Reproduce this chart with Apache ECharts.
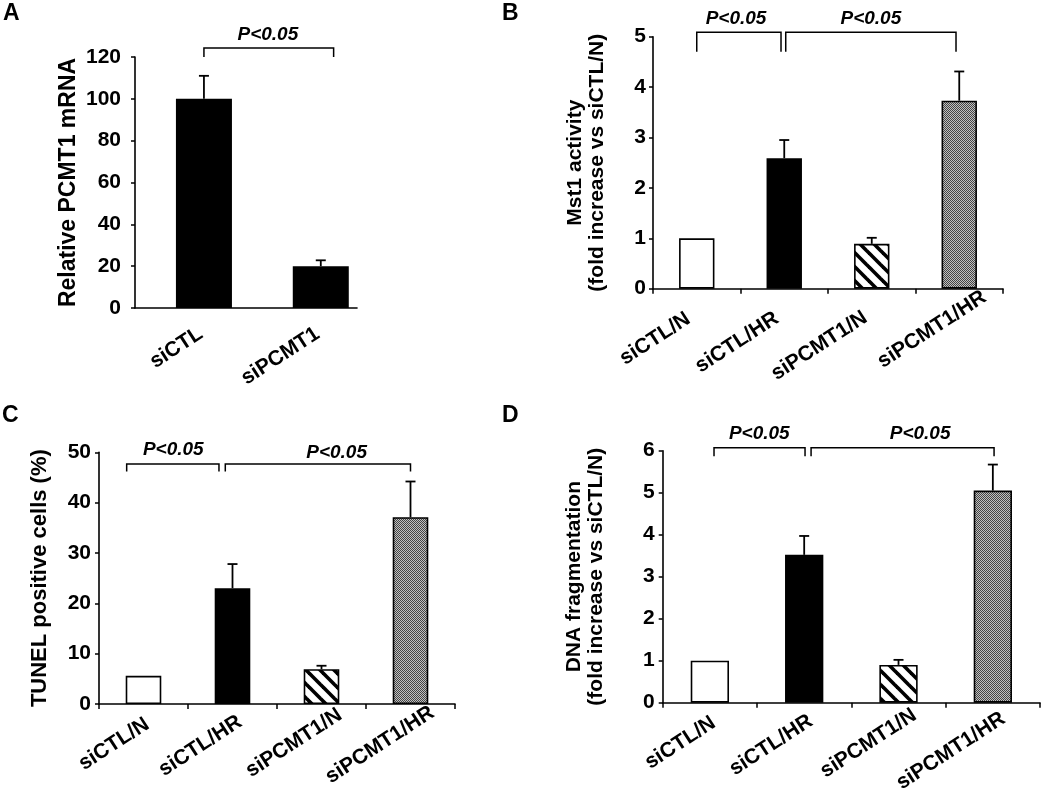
<!DOCTYPE html>
<html><head><meta charset="utf-8">
<script src="https://cdn.jsdelivr.net/npm/echarts@6/dist/echarts.min.js"></script>
<style>html,body{margin:0;padding:0;background:#fff}#c{width:1050px;height:806px}</style>
</head><body><div id="c"></div>
<script>
// ---------------- DATA ----------------
const catsA = ['siCTL', 'siPCMT1'];
const valsA = [100, 20];
const errTopA = [111, 22.8];
const yTicksA = [0, 20, 40, 60, 80, 100, 120];

const cats4 = ['siCTL/N', 'siCTL/HR', 'siPCMT1/N', 'siPCMT1/HR'];

const valsB = [1.0, 2.59, 0.89, 3.73];
const errTopB = [null, 2.95, 1.01, 4.31];
const yTicksB = [0, 1, 2, 3, 4, 5];

const valsC = [5.6, 23.0, 6.9, 37.1];
const errTopC = [null, 27.8, 7.6, 44.2];
const yTicksC = [0, 10, 20, 30, 40, 50];

const valsD = [1.0, 3.52, 0.9, 5.05];
const errTopD = [null, 3.97, 1.02, 5.67];
const yTicksD = [0, 1, 2, 3, 4, 5, 6];

const titleA = 'Relative PCMT1 mRNA';
const titleB = 'Mst1 activity\n(fold increase vs siCTL/N)';
const titleC = 'TUNEL positive cells (%)';
const titleD = 'DNA fragmentation\n(fold increase vs siCTL/N)';
const pText = 'P<0.05';

// significance brackets: [fromX, toX, topY, legY, labelX, labelY] (x in category-index units)
const bracketsA = [[0, 1.11, 124.3, 120, 0.547, 130.6]];
const bracketsB = [[0, 0.963, 5.09, 4.70, 0.449, 5.36], [1.017, 2.963, 5.09, 4.70, 1.99, 5.36]];
const bracketsC = [[-0.189, 0.848, 47.7, 46.2, 0.335, 50.5], [0.919, 3.0, 47.7, 46.2, 2.17, 49.9]];
const bracketsD = [[0.044, 1.009, 6.07, 5.87, 0.524, 6.41], [1.073, 3.013, 6.07, 5.87, 2.229, 6.41]];

// ---------------- STYLES / LAYOUT ----------------
const FONT = '"Liberation Sans", Arial, sans-serif';
// per-label nudges of the rotated category labels: [along-baseline (right padding), perpendicular shift]
const labelNudgeB = [[10, -1], [9, 1.7], [7.6, 0.5], [-30, 19]];
const labelNudgeC = [[-4.5, 0.6], [-9, -2.4], [-22, 4.2], [-26, 6.5]];
const labelNudgeD = [[-4.5, 4], [-7.8, 0.2], [-19, 5.6], [-12.4, 11]];

function hatchPattern() {
  const s = 14, c = document.createElement('canvas'); c.width = c.height = s;
  const g = c.getContext('2d'); g.fillStyle = '#fff'; g.fillRect(0, 0, s, s);
  g.strokeStyle = '#000'; g.lineWidth = 3.6; g.lineCap = 'square';
  for (const k of [-s, 0, s]) { g.beginPath(); g.moveTo(k, 0); g.lineTo(k + s, s); g.stroke(); }
  return { image: c, repeat: 'repeat' };
}
function checkerPattern() {
  const c = document.createElement('canvas'); c.width = c.height = 2;
  const g = c.getContext('2d');
  g.fillStyle = '#c0c0c0'; g.fillRect(0, 0, 2, 2);
  g.fillStyle = '#444'; g.fillRect(0, 0, 1, 1); g.fillRect(1, 1, 1, 1);
  return { image: c, repeat: 'repeat' };
}
const fillsA = ['#000', '#000'];
const fills4 = ['#fff', '#000', hatchPattern(), checkerPattern()];

const chart = echarts.init(document.getElementById('c'), null, { renderer: 'canvas' });

function errItem(params, api) {
  const idx = api.value(0), v = api.value(1), e = api.value(2);
  const p0 = api.coord([idx, v]), p1 = api.coord([idx, e]);
  return { type: 'group', children: [
    { type: 'line', shape: { x1: p0[0], y1: p0[1], x2: p1[0], y2: p1[1] }, style: { stroke: '#000', lineWidth: 1.8 } },
    { type: 'line', shape: { x1: p1[0] - 5, y1: p1[1], x2: p1[0] + 5, y2: p1[1] }, style: { stroke: '#000', lineWidth: 1.8 } }
  ]};
}
function bracketItem(params, api) {
  const x1 = api.value(0), x2 = api.value(1), top = api.value(2), leg = api.value(3), lx = api.value(4), ly = api.value(5);
  const a = api.coord([x1, leg]), b = api.coord([x1, top]), c = api.coord([x2, top]), d = api.coord([x2, leg]);
  const l = api.coord([lx, ly]);
  return { type: 'group', children: [
    { type: 'polyline', shape: { points: [a, b, c, d] }, style: { stroke: '#000', lineWidth: 1.5, fill: null } },
    { type: 'text', x: l[0], y: l[1], style: { text: pText, font: 'italic bold 19px ' + FONT, fill: '#000', align: 'center', verticalAlign: 'middle' } }
  ]};
}

const grids = [
  { left: 135, top: 57, width: 222, height: 251 },
  { left: 653, top: 36.7, width: 350, height: 252 },
  { left: 99, top: 452.3, width: 356, height: 251.7 },
  { left: 662.7, top: 450.7, width: 377.3, height: 252 }
].map(g => Object.assign(g, { containLabel: false, outerBoundsMode: 'none' }));

const axisLineStyle = { show: true, onZero: false, lineStyle: { color: '#000', width: 1.6 } };
const tickLabel = { color: '#000', fontSize: 21, fontWeight: 'bold', fontFamily: FONT };
const xLabel = { color: '#000', fontSize: 21, fontWeight: 'bold', fontFamily: FONT, rotate: 33, interval: 0 };
const nameStyle = { color: '#000', fontSize: 21, fontWeight: 'bold', fontFamily: FONT, lineHeight: 22 };

function nudgePadding(n) {
  const t2 = 2 * n[1];
  return [t2 > 0 ? t2 : 0, n[0], t2 < 0 ? -t2 : 0, 0];
}

function yAxis(gi, ticks, name, gap, margin, fs) {
  return {
    type: 'value', gridIndex: gi, min: ticks[0], max: ticks[ticks.length - 1], interval: ticks[1] - ticks[0],
    axisLine: axisLineStyle, axisTick: { show: true, length: 4, lineStyle: { color: '#000', width: 1.5 } },
    axisLabel: Object.assign({ margin: margin }, tickLabel), splitLine: { show: false },
    name: name, nameLocation: 'middle', nameGap: gap, nameTextStyle: Object.assign({}, nameStyle, fs ? { fontSize: fs, lineHeight: fs } : {})
  };
}
function catAxis(gi, margin, nudges) {
  return {
    type: 'category', gridIndex: gi, boundaryGap: true,
    data: cats4.map((c, i) => ({ value: c, textStyle: { padding: nudgePadding(nudges[i]) } })),
    axisLine: axisLineStyle, axisTick: { show: true, length: 5, lineStyle: { color: '#000', width: 1.5 } },
    axisLabel: Object.assign({ margin: margin }, xLabel), splitLine: { show: false }
  };
}
function helperAxis(gi) {
  return { type: 'value', gridIndex: gi, min: -0.5, max: 3.5, show: false, position: 'bottom',
    axisLine: { show: false, onZero: false }, splitLine: { show: false } };
}

const xAxes = [
  // 0: panel A (value axis in category-index units)
  { type: 'value', gridIndex: 0, min: -0.59, max: 1.31, axisLine: axisLineStyle, axisTick: { show: false },
    splitLine: { show: false },
    axisLabel: Object.assign({ margin: 22, padding: [8, 3.6, 0, 0], customValues: [0, 1], formatter: v => catsA[Math.round(v)] }, xLabel) },
  catAxis(1, 23, labelNudgeB), catAxis(2, 21, labelNudgeC), catAxis(3, 21, labelNudgeD),
  helperAxis(1), helperAxis(2), helperAxis(3)
];
const yAxes = [
  yAxis(0, yTicksA, titleA, 55, 14, 23),
  yAxis(1, yTicksB, titleB, 45, 7),
  yAxis(2, yTicksC, titleC, 48, 8, 22),
  yAxis(3, yTicksD, titleD, 55, 8)
];

function barSeries(xi, yi, vals, fills, width, xs) {
  return {
    type: 'bar', xAxisIndex: xi, yAxisIndex: yi, barWidth: width,
    data: vals.map((v, i) => ({ value: xs ? [xs[i], v] : v, itemStyle: { color: fills[i], borderColor: '#000', borderWidth: 1.6 } })),
    z: 2
  };
}
function errSeries(xi, yi, vals, errs) {
  const d = [];
  vals.forEach((v, i) => { if (errs[i] != null) d.push([i, v, errs[i]]); });
  return { type: 'custom', xAxisIndex: xi, yAxisIndex: yi, renderItem: errItem, clip: false, z: 3,
    data: d, encode: { x: 0, y: [1, 2] } };
}
function bracketSeries(xi, yi, br) {
  return { type: 'custom', xAxisIndex: xi, yAxisIndex: yi, renderItem: bracketItem, clip: false, z: 4,
    data: br, encode: { x: [0, 1, 4], y: [2, 3, 5] } };
}

const series = [
  barSeries(0, 0, valsA, fillsA, 56, [0, 1]),
  errSeries(0, 0, valsA, errTopA),
  bracketSeries(0, 0, bracketsA),
  barSeries(1, 1, valsB, fills4, 35.4), errSeries(1, 1, valsB, errTopB), bracketSeries(4, 1, bracketsB),
  barSeries(2, 2, valsC, fills4, 35.6), errSeries(2, 2, valsC, errTopC), bracketSeries(5, 2, bracketsC),
  barSeries(3, 3, valsD, fills4, 38.3), errSeries(3, 3, valsD, errTopD), bracketSeries(6, 3, bracketsD)
];

const letterStyle = { color: '#000', fontSize: 23, fontWeight: 'bold', fontFamily: FONT };
const titles = [
  { text: 'A', left: 3, top: 2 }, { text: 'B', left: 502, top: 2 },
  { text: 'C', left: 2, top: 404 }, { text: 'D', left: 502, top: 404 }
].map(t => Object.assign(t, { textStyle: letterStyle, padding: 0 }));

chart.setOption({
  animation: false, backgroundColor: '#fff',
  title: titles, grid: grids, xAxis: xAxes, yAxis: yAxes, series: series
});
</script></body></html>
